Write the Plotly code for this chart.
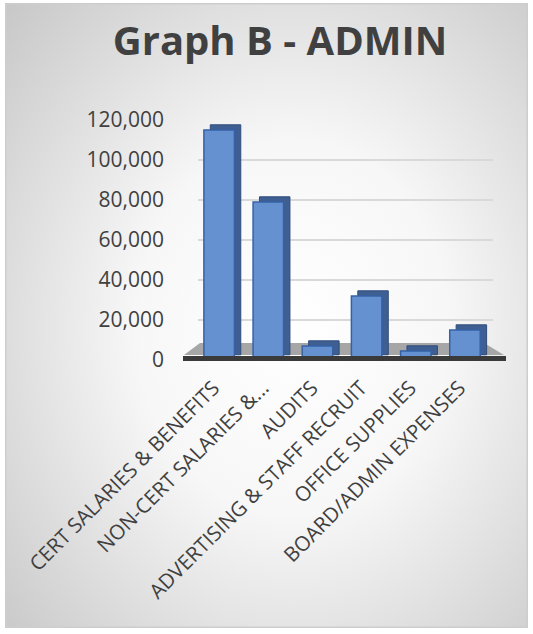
import base64
import plotly.graph_objects as go

categories = ["CERT SALARIES & BENEFITS", "NON-CERT SALARIES &...", "AUDITS",
              "ADVERTISING & STAFF RECRUIT", "OFFICE SUPPLIES", "BOARD/ADMIN EXPENSES"]
values = [115000, 79000, 7000, 32000, 4500, 15000]
tick_vals = [0, 20000, 40000, 60000, 80000, 100000, 120000]
tick_text = ["0", "20,000", "40,000", "60,000", "80,000", "100,000", "120,000"]
title_text = "Graph B - ADMIN"

W, H = 533, 634
L, R, T, B = 198, 40, 120, 274
pw, ph = W - L - R, H - T - B
ymax = 120000
depth_lift = 2600  # visual 3D depth lift (style)

# background gradient as svg
svg = f'''<svg xmlns="http://www.w3.org/2000/svg" width="523" height="625" viewBox="0 0 523 625">
<defs><radialGradient id="g" cx="0.55" cy="0.52" r="0.75">
<stop offset="0" stop-color="#ffffff"/><stop offset="0.4" stop-color="#f7f7f7"/><stop offset="1" stop-color="#c8c8c8"/></radialGradient></defs>
<rect x="0.75" y="0.75" width="521.5" height="623.5" fill="url(#g)" stroke="#cdcdcd" stroke-width="1.5"/></svg>'''
src = "data:image/svg+xml;base64," + base64.b64encode(svg.encode()).decode()

def px_x(p):
    return (p - L) / pw
def px_y(p):
    return (H - B - p) / ph

fig = go.Figure()
fig.add_trace(go.Bar(x=categories, y=values, base=depth_lift, width=0.62, offset=-0.25,
                     marker=dict(color="#3f5f92", line=dict(color="#2f4d7d", width=1)),
                     hoverinfo="skip", showlegend=False))
fig.add_trace(go.Bar(x=categories, y=values, width=0.62, offset=-0.38,
                     marker=dict(color="#6691d0", line=dict(color="#3661a6", width=1.5)),
                     showlegend=False))

shapes = [
    # floor slab
    dict(type="path", xref="paper", yref="paper", layer="below",
         path=f"M {px_x(200)} {px_y(343)} L {px_x(484)} {px_y(343)} L {px_x(504)} {px_y(355)} L {px_x(184)} {px_y(355)} Z",
         fillcolor="#a6a6a6", line=dict(width=0)),
    dict(type="rect", xref="paper", yref="paper", layer="above",
         x0=px_x(183), x1=px_x(506), y0=px_y(361), y1=px_y(356),
         fillcolor="#3a3a3a", line=dict(width=0)),
]

fig.update_layout(
    width=W, height=H,
    margin=dict(l=L, r=R, t=T, b=B, autoexpand=False),
    paper_bgcolor="white", plot_bgcolor="rgba(0,0,0,0)",
    barmode="overlay",
    title=dict(text=f"<b>{title_text}</b>", x=280 / W, xref="container", xanchor="center",
               y=1 - 41 / H, yref="container", yanchor="middle",
               font=dict(family="Open Sans", size=40, color="#404040")),
    font=dict(family="Open Sans", color="#404040"),
    images=[dict(source=src, xref="paper", yref="paper", x=px_x(5), y=px_y(3),
                 sizex=523 / pw, sizey=625 / ph, sizing="stretch", layer="below", xanchor="left", yanchor="top")],
    shapes=shapes,
)
fig.update_yaxes(range=[0, ymax], tickvals=tick_vals, ticktext=tick_text,
                 tickfont=dict(size=21, color="#404040"), ticklabelstandoff=33,
                 showgrid=True, gridcolor="#d9d9d9", gridwidth=1.5, zeroline=False, showline=False)
fig.update_xaxes(tickangle=-45, tickfont=dict(size=20.5, color="#404040"), showline=False,
                 showgrid=False, ticks="", range=[-0.5, 5.5], ticklabelstandoff=11, ticklabelshift=-9)

fig.write_html("out.html", config={"displayModeBar": False},
               post_script="document.body.style.margin='0';")
